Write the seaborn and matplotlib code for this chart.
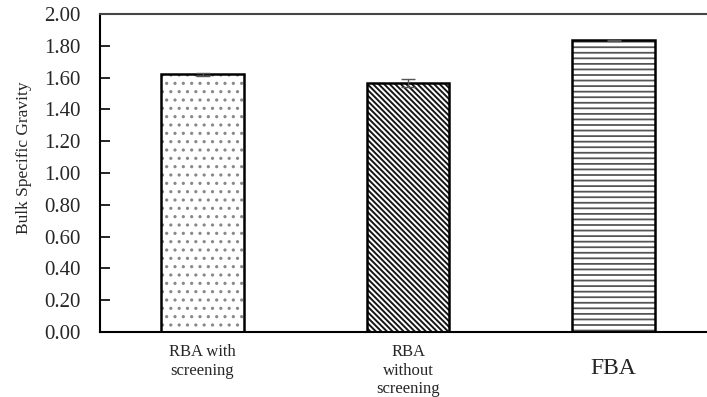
import matplotlib
matplotlib.use("Agg")
import matplotlib.pyplot as plt
import seaborn as sns
import pandas as pd
from matplotlib.transforms import ScaledTranslation

categories = ["RBA with\nscreening", "RBA\nwithout\nscreening", "FBA"]
values = [1.62, 1.565, 1.835]
errors = [0.008, 0.026, 0.004]
yticks = [0.0, 0.2, 0.4, 0.6, 0.8, 1.0, 1.2, 1.4, 1.6, 1.8, 2.0]

sns.set_theme(style="white")
plt.rcParams["font.family"] = ["Liberation Serif", "DejaVu Serif"]
plt.rcParams["hatch.linewidth"] = 1.0

df = pd.DataFrame({"cat": categories, "val": values})

fig = plt.figure(figsize=(7.07, 3.97), dpi=100)
ax = fig.add_axes([100 / 707, 65 / 397, 607 / 707, 318 / 397])

sns.barplot(data=df, x="cat", y="val", ax=ax, width=0.40, color="white",
            errorbar=None, saturation=1)

bs = chr(92)
hatches = ["..", bs * 6, "---"]
hcolors = ["#888888", "#151515", "#555555"]
hlw = [1.1, 1.4, 1.3]
for p, h, c, lw in zip(ax.patches, hatches, hcolors, hlw):
    p.set_hatch(h)
    p.set_edgecolor(c)
    p.set_linewidth(0)
    if hasattr(p, "set_hatch_linewidth"):
        p.set_hatch_linewidth(lw)

# outlines
sns.barplot(data=df, x="cat", y="val", ax=ax, width=0.40, fill=False,
            edgecolor="black", linewidth=1.8, errorbar=None)

ax.errorbar(x=list(range(len(values))), y=values, yerr=errors, fmt="none",
            ecolor="#555555", elinewidth=1.0, capsize=5, capthick=1.0)

ax.set_ylim(0, 2.0)
ax.set_xlim(-0.499, 2.455)
ax.set_yticks(yticks)
ax.set_yticklabels([f"{t:.2f}" for t in yticks], fontsize=15)
ax.tick_params(axis="y", direction="in", length=7, width=1.2, color="black", pad=14,
               left=True)
ax.tick_params(axis="x", length=0, pad=9)
ax.set_xlabel("")
ax.set_ylabel("Bulk Specific Gravity", fontsize=12.5)
ax.yaxis.set_label_coords(-0.112, 0.547)

labels = ax.get_xticklabels()
for lab in labels:
    lab.set_fontsize(12)
labels[2].set_fontsize(17)
labels[2].set_transform(labels[2].get_transform() +
                        ScaledTranslation(0, -10 / 72, fig.dpi_scale_trans))

for s in ["left", "bottom", "top"]:
    ax.spines[s].set_visible(True)
    ax.spines[s].set_color("black")
    ax.spines[s].set_linewidth(1.5)
ax.spines["top"].set_color("#444444")
ax.spines["right"].set_visible(False)

fig.savefig("out.png", dpi=100)
